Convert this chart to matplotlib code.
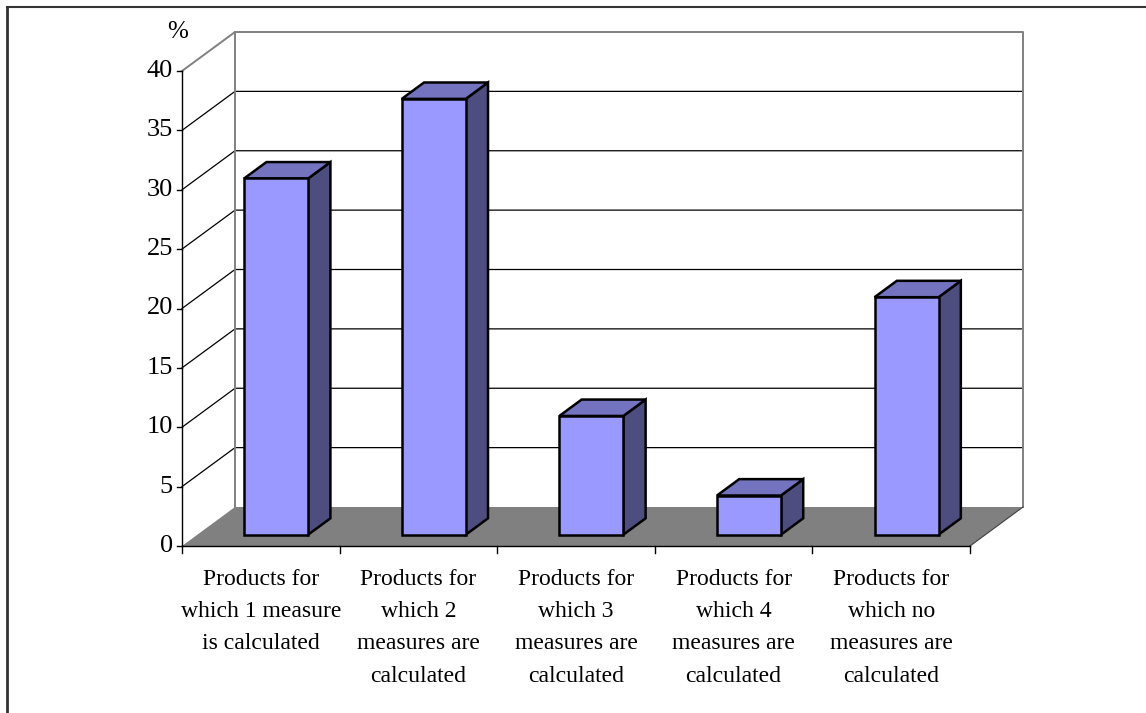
import numpy as np
import matplotlib.pyplot as plt
from matplotlib.patches import Polygon
from matplotlib.lines import Line2D

# data
categories = ["Products for\nwhich 1 measure\nis calculated",
              "Products for\nwhich 2\nmeasures are\ncalculated",
              "Products for\nwhich 3\nmeasures are\ncalculated",
              "Products for\nwhich 4\nmeasures are\ncalculated",
              "Products for\nwhich no\nmeasures are\ncalculated"]
values = [30, 36.7, 10, 3.3, 20]
yticks = [0, 5, 10, 15, 20, 25, 30, 35, 40]

plt.rcParams['font.family'] = ['Liberation Serif', 'DejaVu Serif']

# pixel scale of the front plane
px_x = 157.6    # px per category
px_y = 11.875   # px per unit of value
DX = 53 / px_x  # depth offset in category units
DY = 39 / px_y  # depth offset in value units

def proj(x, v, d):
    return (x + d * DX, v + d * DY)

fig = plt.figure(figsize=(11.46, 7.13), dpi=100)
ax = fig.add_axes([0, 0, 1, 1])
ax.set_xlim(-182 / px_x, (1146 - 182) / px_x)
ax.set_ylim(-(713 - 546) / px_y, 546 / px_y)
ax.axis('off')

n = len(values)
vmax = yticks[-1]
wall = '#808080'

# floor
ax.add_patch(Polygon([proj(0, 0, 0), proj(n, 0, 0), proj(n, 0, 1), proj(0, 0, 1)],
                     closed=True, fc='#808080', ec='none', zorder=1))
ax.plot(*zip(proj(n, 0, 0), proj(n, 0, 1)), color='#404040', lw=0.8, zorder=2)

# gridlines on back wall and left wall
for t in yticks[1:-1]:
    ax.plot(*zip(proj(0, t, 0), proj(0, t, 1), proj(n, t, 1)), color='black', lw=0.9, zorder=1)

# wall frame
ax.plot(*zip(proj(0, vmax, 0), proj(0, vmax, 1), proj(n, vmax, 1), proj(n, 0, 1)),
        color=wall, lw=1.4, zorder=1)
ax.plot(*zip(proj(0, 0, 1), proj(0, vmax, 1)), color=wall, lw=1.4, zorder=1)

# bars
w = 0.406
df, db = 0.29, 0.71
for i, v in enumerate(values):
    x0 = i + (1 - w) / 2
    x1 = x0 + w
    front = [proj(x0, 0, df), proj(x1, 0, df), proj(x1, v, df), proj(x0, v, df)]
    side = [proj(x1, 0, df), proj(x1, 0, db), proj(x1, v, db), proj(x1, v, df)]
    top = [proj(x0, v, df), proj(x1, v, df), proj(x1, v, db), proj(x0, v, db)]
    ax.add_patch(Polygon(side, closed=True, fc='#4D4D80', ec='black', lw=1.8, zorder=3))
    ax.add_patch(Polygon(top, closed=True, fc='#7373BF', ec='black', lw=1.8, zorder=3))
    ax.add_patch(Polygon(front, closed=True, fc='#9999FF', ec='black', lw=1.8, zorder=4))

# front axes
ax.plot([0, 0], [0, vmax], color='black', lw=1.0, zorder=5)
ax.plot([0, n], [0, 0], color='black', lw=1.0, zorder=5)
for t in yticks:
    ax.plot([-5 / px_x, 0], [t, t], color='black', lw=1.0, zorder=5)
    ax.text(-9 / px_x, t, str(t), ha='right', va='center', fontsize=19)
for k in range(n + 1):
    ax.plot([k, k], [0, -7 / px_y], color='black', lw=1.0, zorder=5)
for i, lab in enumerate(categories):
    ax.text(i + 0.5, -23 / px_y, lab, ha='center', va='top', fontsize=17, linespacing=1.7)
ax.text(-4 / px_x, 514 / px_y, '%', ha='center', va='center', fontsize=18)

# outer frame (left and top only visible)
fig.add_artist(Line2D([7 / 1146, 7 / 1146], [0, 1 - 7 / 713], color='#333333', lw=2))
fig.add_artist(Line2D([7 / 1146, 1], [1 - 7 / 713, 1 - 7 / 713], color='#333333', lw=1.5))

fig.savefig('out.png', dpi=100)
